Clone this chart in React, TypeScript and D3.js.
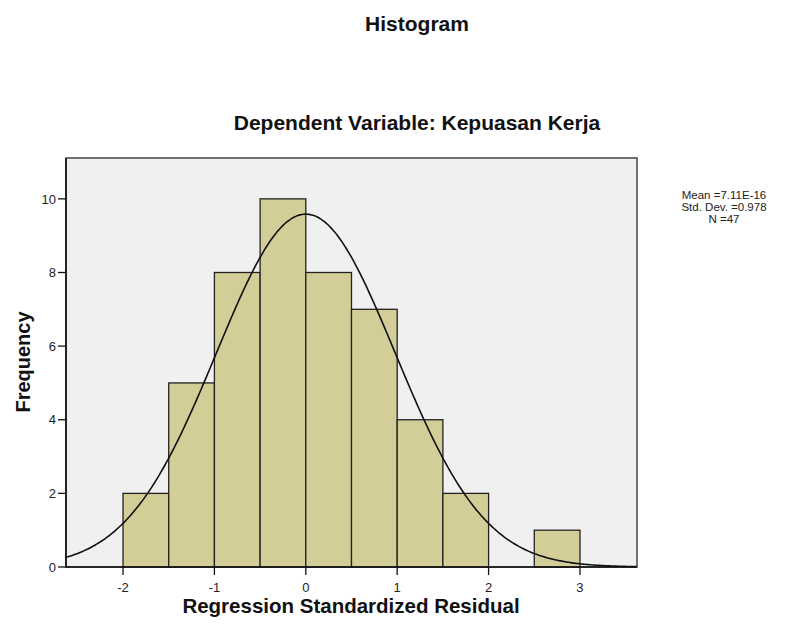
import * as d3 from "d3";
import React from "react";

// histogram bins (lower edge), width 0.5
const binStarts = [-2, -1.5, -1, -0.5, 0, 0.5, 1, 1.5, 2, 2.5];
const counts = [2, 5, 8, 10, 8, 7, 4, 2, 0, 1];
const binWidth = 0.5;
const xTickValues = [-2, -1, 0, 1, 2, 3];
const yTickValues = [0, 2, 4, 6, 8, 10];
const mean = 7.11e-16;
const stdDev = 0.978;
const n = 47;
const statLines = ["Mean =7.11E-16", "Std. Dev. =0.978", "N =47"];

export default function App() {
  const width = 797;
  const height = 632;
  const plot = { left: 66, right: 637, top: 158, bottom: 567 };
  const font = "'Liberation Sans', Arial, sans-serif";

  const x = d3.scaleLinear().domain([-2.624, 3.624]).range([plot.left, plot.right]);
  const y = d3.scaleLinear().domain([0, 11.11]).range([plot.bottom, plot.top]);

  // fitted normal curve from the reported statistics
  const curveX = d3.range(-2.624, 3.6241, 0.02);
  const curve = curveX.map((v) => ({
    x: v,
    y:
      ((n * binWidth) / (stdDev * Math.sqrt(2 * Math.PI))) *
      Math.exp(-((v - mean) ** 2) / (2 * stdDev * stdDev)),
  }));
  const line = d3
    .line<{ x: number; y: number }>()
    .x((d) => x(d.x))
    .y((d) => y(d.y))
    .curve(d3.curveBasis);

  return (
    <svg
      width={width}
      height={height}
      style={{ position: "absolute", left: 0, top: 0, background: "#fff" }}
      fontFamily={font}
    >
      <text x={417} y={31} textAnchor="middle" fontSize="21" fontWeight="bold" fill="#111">
        Histogram
      </text>
      <text x={417} y={130} textAnchor="middle" fontSize="21" fontWeight="bold" fill="#111">
        Dependent Variable: Kepuasan Kerja
      </text>

      <rect
        x={plot.left}
        y={plot.top}
        width={plot.right - plot.left}
        height={plot.bottom - plot.top}
        fill="#f0f0f0"
        stroke="#444"
        strokeWidth="1.5"
      />

      <g>
        {binStarts.map((b, i) =>
          counts[i] > 0 ? (
            <rect
              key={i}
              x={x(b)}
              y={y(counts[i])}
              width={x(b + binWidth) - x(b)}
              height={y(0) - y(counts[i])}
              fill="#d3cd97"
              stroke="#222"
              strokeWidth="1.3"
            />
          ) : null
        )}
      </g>

      <path d={line(curve) || ""} fill="none" stroke="#111" strokeWidth="1.6" />

      <g stroke="#111" strokeWidth="1.6">
        <line x1={plot.left} y1={plot.top} x2={plot.left} y2={plot.bottom} />
        <line x1={plot.left} y1={plot.bottom} x2={plot.right} y2={plot.bottom} />
      </g>

      <g>
        {yTickValues.map((t) => (
          <g key={t}>
            <line x1={plot.left - 8} x2={plot.left} y1={y(t)} y2={y(t)} stroke="#111" strokeWidth="1.3" />
            <text x={plot.left - 10} y={y(t)} dy="0.36em" textAnchor="end" fontSize="13" fill="#222">
              {t}
            </text>
          </g>
        ))}
      </g>
      <g>
        {xTickValues.map((t) => (
          <g key={t}>
            <line x1={x(t)} x2={x(t)} y1={plot.bottom} y2={plot.bottom + 8} stroke="#111" strokeWidth="1.3" />
            <text x={x(t)} y={plot.bottom + 25} textAnchor="middle" fontSize="13" fill="#222">
              {t}
            </text>
          </g>
        ))}
      </g>

      <text
        transform={`translate(30, 362) rotate(-90)`}
        textAnchor="middle"
        fontSize="20"
        fontWeight="bold"
        fill="#111"
      >
        Frequency
      </text>
      <text x={351} y={613} textAnchor="middle" fontSize="20.5" fontWeight="bold" fill="#111">
        Regression Standardized Residual
      </text>

      <g>
        {statLines.map((s, i) => (
          <text key={i} x={724} y={199 + i * 12} textAnchor="middle" fontSize="11.5" fill="#222">
            {s}
          </text>
        ))}
      </g>
    </svg>
  );
}
